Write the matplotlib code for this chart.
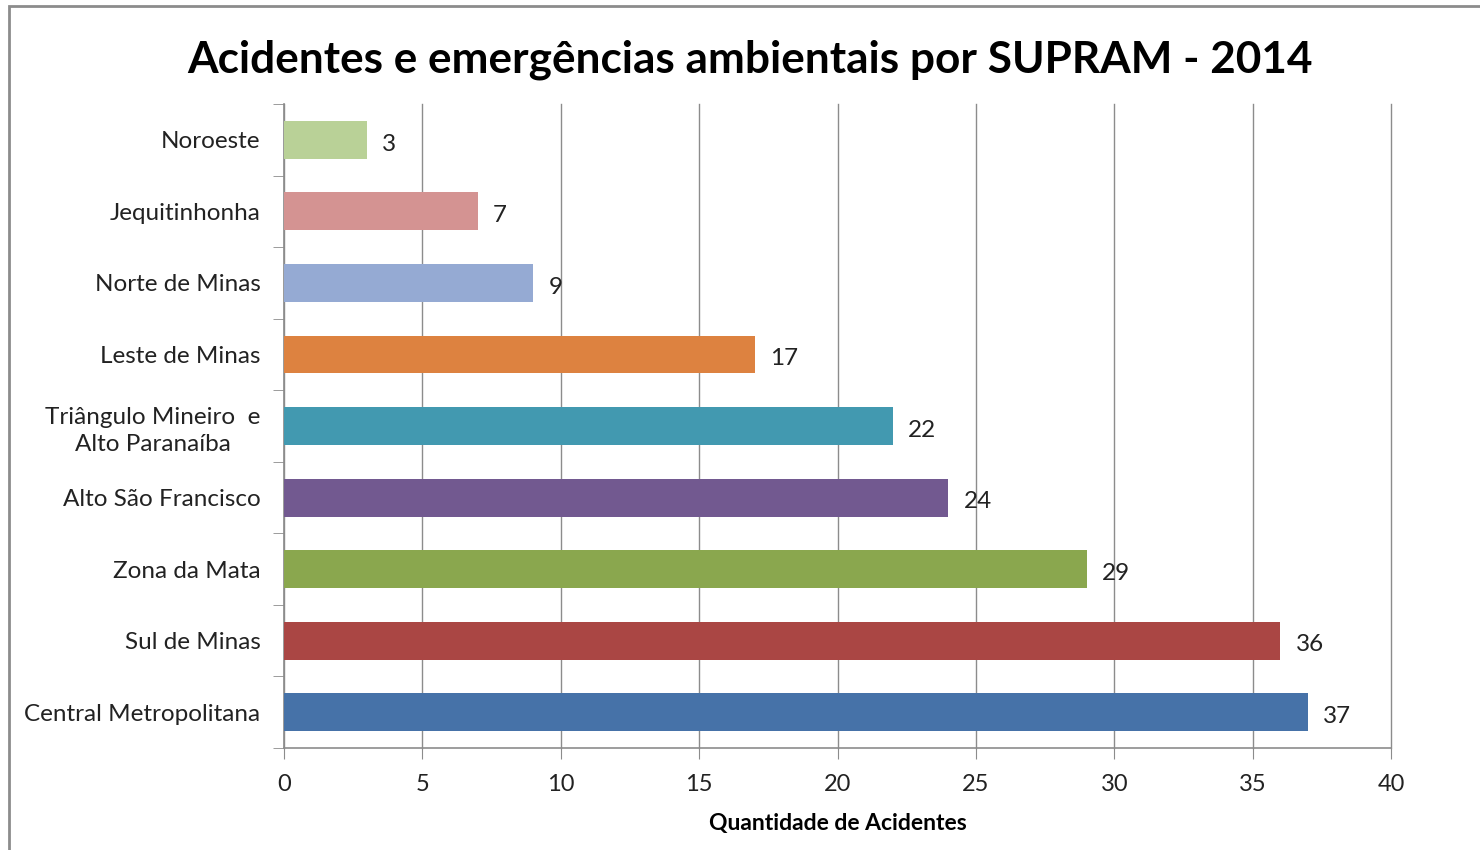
import matplotlib
matplotlib.use("Agg")
from matplotlib import pyplot as plt
from matplotlib.patches import Rectangle

plt.rcParams['font.family'] = ['Lato', 'DejaVu Sans']

regions = ['Central Metropolitana', 'Sul de Minas', 'Zona da Mata',
           'Alto São Francisco', 'Triângulo Mineiro  e\nAlto Paranaíba',
           'Leste de Minas', 'Norte de Minas', 'Jequitinhonha', 'Noroeste']
counts = [37, 36, 29, 24, 22, 17, 9, 7, 3]
colors = ['#4672A8', '#AA4644', '#8AA74E', '#725990', '#4299B0',
          '#DD8240', '#95AAD3', '#D49392', '#B9D197']
xticks = [0, 5, 10, 15, 20, 25, 30, 35, 40]

fig = plt.figure(figsize=(14.8, 8.5), dpi=100)
ax = fig.add_axes([0.1919, 0.12, 0.748, 0.7576])

# outer chart frame (cut off at right/bottom like the screenshot)
fig.patches.append(Rectangle((9 / 1480, -0.1), 1.2, 0.1 + (850 - 6) / 850,
                             transform=fig.transFigure, fill=False,
                             edgecolor='#8c8c8c', linewidth=2))

pos = list(range(len(regions)))
ax.barh(pos, counts, height=0.53, color=colors, zorder=3)
for p, c in zip(pos, counts):
    ax.text(c + 0.55, p - 0.06, str(c), va='center', ha='left', fontsize=17.5,
            color='#222222', zorder=4)

ax.set_xlim(0, 40)
ax.set_ylim(-0.5, len(regions) - 0.5)
ax.set_xticks(xticks)
ax.set_xticklabels([str(t) for t in xticks], fontsize=17, color='#222222')
ax.set_yticks(pos)
ax.set_yticklabels(regions, fontsize=17.5, color='#222222')
for lab in ax.get_yticklabels():
    lab.set_multialignment('center')
    lab.set_linespacing(1.35)
ax.set_yticks([p - 0.5 for p in pos] + [len(regions) - 0.5], minor=True)
ax.tick_params(axis='y', which='major', length=0, pad=17)
ax.tick_params(axis='y', which='minor', length=8, color='#8c8c8c', direction='out')
ax.tick_params(axis='x', length=8, color='#8c8c8c', direction='out', pad=11)
for t in xticks:
    ax.axvline(t, color='#8c8c8c', linewidth=1, zorder=0, clip_on=False)

for s in ['top', 'right']:
    ax.spines[s].set_visible(False)
for s in ['left', 'bottom']:
    ax.spines[s].set_color('#8c8c8c')
    ax.spines[s].set_linewidth(1.2)

ax.set_xlabel('Quantidade de Acidentes', fontsize=16.5, fontweight='bold', labelpad=13)
fig.text(0.507, 0.93, 'Acidentes e emergências ambientais por SUPRAM - 2014',
         ha='center', va='center', fontsize=31.8, fontweight='bold')

fig.savefig('out.png', dpi=100)
